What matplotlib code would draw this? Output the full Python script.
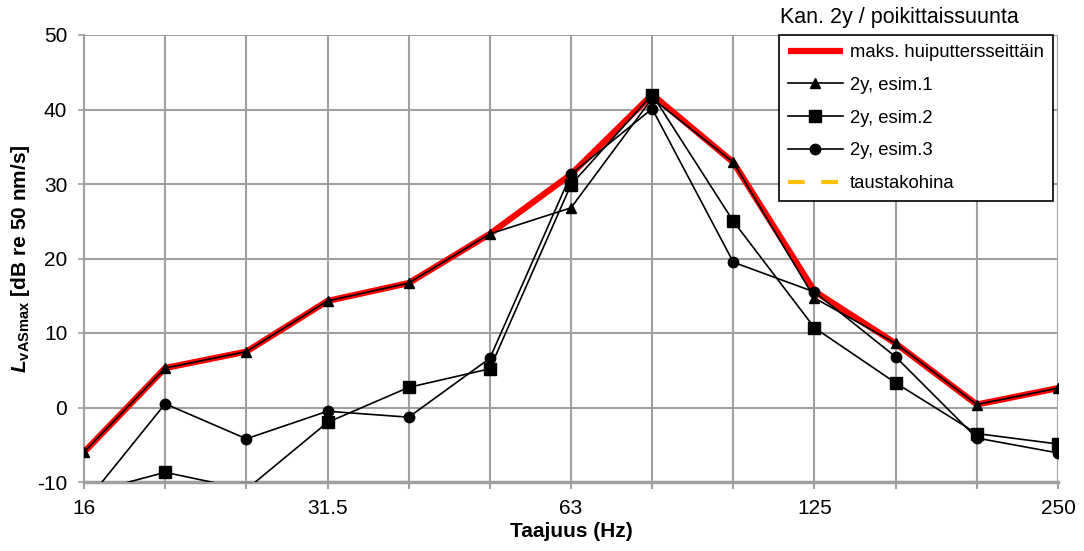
import numpy as np
import matplotlib
matplotlib.use("Agg")
import matplotlib.pyplot as plt

plt.rcParams['font.family'] = ['Liberation Sans', 'DejaVu Sans']
plt.rcParams['axes.unicode_minus'] = False
plt.rcParams['mathtext.fontset'] = 'custom'
plt.rcParams['mathtext.rm'] = 'Liberation Sans'
plt.rcParams['mathtext.it'] = 'Liberation Sans:italic'
plt.rcParams['mathtext.bf'] = 'Liberation Sans:bold'
plt.rcParams['mathtext.bfit'] = 'Liberation Sans:italic:bold'

# ---- data ----
bands = ['16', '20', '25', '31.5', '40', '50', '63', '80', '100', '125', '160', '200', '250']
shown_ticks = ['16', '31.5', '63', '125', '250']

esim1 = [-6.0, 5.3, 7.5, 14.3, 16.7, 23.3, 26.8, 41.5, 32.9, 14.7, 8.6, 0.4, 2.6]
esim2 = [-11.6, -8.7, -11.0, -2.0, 2.7, 5.2, 29.9, 42.0, 25.0, 10.7, 3.3, -3.5, -4.9]
esim3 = [-13.0, 0.5, -4.2, -0.5, -1.3, 6.6, 31.3, 40.1, 19.5, 15.5, 6.8, -4.1, -6.1]
maks = [-6.0, 5.3, 7.5, 14.3, 16.7, 23.3, 31.3, 42.0, 32.9, 15.6, 8.6, 0.4, 2.6]
tausta = [np.nan] * len(bands)

title_text = 'Kan. 2y / poikittaissuunta'
labels = ['maks. huiputtersseittäin', '2y, esim.1', '2y, esim.2', '2y, esim.3', 'taustakohina']

# ---- figure ----
fig = plt.figure(figsize=(10.84, 5.51), dpi=100)
ax = fig.add_axes([84 / 1084, 1 - 482 / 551, (1058 - 84) / 1084, (482 - 35) / 551])

x = np.arange(len(bands))
grid_c = '#a0a0a0'

l0, = ax.plot(x, maks, color='#ff0000', lw=4.5, zorder=3, solid_capstyle='butt')
l1, = ax.plot(x, esim1, color='black', lw=1.2, marker='^', ms=7.5, zorder=4)
l2, = ax.plot(x, esim2, color='black', lw=1.2, marker='s', ms=8, zorder=4)
l3, = ax.plot(x, esim3, color='black', lw=1.2, marker='o', ms=7.5, zorder=4)
l4, = ax.plot(x, tausta, color='#ffc000', lw=3, dashes=(4, 4), zorder=3)

ax.set_xlim(0, len(bands) - 1)
ax.set_ylim(-10, 50)
ax.set_yticks(np.arange(-10, 51, 10))
ax.set_xticks(x, minor=True)
ax.set_xticks([bands.index(t) for t in shown_ticks])
ax.set_xticklabels(shown_ticks)

ax.grid(True, which='both', axis='x', color=grid_c, lw=1.5, zorder=0)
ax.grid(True, which='major', axis='y', color=grid_c, lw=1.5, zorder=0)
ax.set_axisbelow(True)

for s in ['top', 'right']:
    ax.spines[s].set_visible(False)
ax.spines['left'].set_color(grid_c)
ax.spines['left'].set_linewidth(1.5)
ax.spines['bottom'].set_color(grid_c)
ax.spines['bottom'].set_linewidth(2.5)

ax.tick_params(axis='both', which='both', colors=grid_c, labelcolor='black', labelsize=15)
ax.tick_params(axis='x', which='both', length=5, width=1.5, pad=7)
ax.tick_params(axis='y', length=4, width=1.2, pad=8)

ax.set_xlabel('Taajuus (Hz)', fontsize=15, fontweight='bold', labelpad=3)
ax.set_ylabel(r'$\mathbfit{L}_{\mathbf{vASmax}}$ [dB re 50 nm/s]', fontsize=15,
              fontweight='bold', labelpad=4)

leg = ax.legend([l0, l1, l2, l3, l4], labels, loc='upper right',
                bbox_to_anchor=(0.995, 1.0), borderaxespad=0, fontsize=13.3,
                frameon=True, fancybox=False, edgecolor='black', framealpha=1,
                handlelength=2.95, labelspacing=0.85, borderpad=0.5,
                handletextpad=0.4)
leg.get_frame().set_linewidth(1.2)
leg.set_zorder(10)

fig.text(1019 / 1084, 1 - 18 / 551, title_text, fontsize=15.5, ha='right', va='center')

fig.savefig('out.png', dpi=100)
